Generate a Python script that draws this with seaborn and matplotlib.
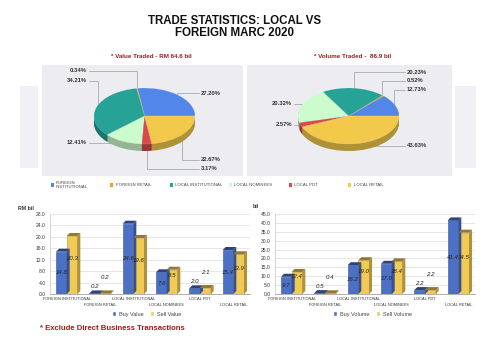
import numpy as np
import matplotlib
matplotlib.use("Agg")
import matplotlib.pyplot as plt
import matplotlib.colors as mcolors
from matplotlib.patches import Rectangle, Polygon
import seaborn as sns
import pandas as pd

# ---------------- data ----------------
segments = ["FOREIGN INSTITUTIONAL", "FOREIGN RETAIL", "LOCAL INSTITUTIONAL",
            "LOCAL NOMINEES", "LOCAL PDT", "LOCAL RETAIL"]
legend_labels = ["FOREIGN\nINSTITUTIONAL", "FOREIGN RETAIL", "LOCAL INSTITUTIONAL",
                 "LOCAL NOMINEES", "LOCAL PDT", "LOCAL RETAIL"]
value_share = [27.20, 0.34, 34.21, 12.41, 3.17, 22.67]
volume_share = [12.73, 0.52, 20.23, 20.32, 2.57, 43.63]
buy_value = [14.8, 0.2, 24.6, 7.6, 2.0, 15.4]
sell_value = [20.3, 0.2, 19.6, 8.5, 2.1, 13.9]
buy_volume = [9.7, 0.5, 16.2, 17.0, 2.2, 41.4]
sell_volume = [12.4, 0.4, 19.0, 18.4, 2.2, 34.5]
value_ticks = [0, 4, 8, 12, 16, 20, 24, 28]
volume_ticks = [0, 5, 10, 15, 20, 25, 30, 35, 40, 45]

title = "TRADE STATISTICS: LOCAL VS\nFOREIGN MARC 2020"
value_title = "* Value Traded - RM 64.6 bil"
volume_title = "* Volume Traded -  86.9 bil"
footnote = "* Exclude Direct Business Transactions"

# ---------------- style ----------------
sns.set_style("white")
plt.rcParams["font.family"] = ["Liberation Sans", "DejaVu Sans"]

pie_colors = ["#5386E9", "#F39A1B", "#27A297", "#CCFBCD", "#DA4A4B", "#F3C94B"]
bar_blue = "#4C70C6"
bar_yellow = "#F1C955"
panel_color = "#ECECF1"
dark_red = "#9A1B1E"
text_col = "#222222"

W, H = 500, 354
fig = plt.figure(figsize=(W / 100, H / 100), dpi=100)
fig.patch.set_facecolor("white")


def px_rect(x0, y0, x1, y1):
    return [x0 / W, 1 - y1 / H, (x1 - x0) / W, (y1 - y0) / H]


def fx(x):
    return x / W


def fy(y):
    return 1 - y / H


def darken(c, f):
    r, g, b = mcolors.to_rgb(c)
    return (r * f, g * f, b * f)


# side decorative panels
for (x0, y0, x1, y1) in [(20, 86, 38, 168), (455, 86, 476, 168)]:
    fig.patches.append(Rectangle((fx(x0), fy(y1)), fx(x1 - x0), (y1 - y0) / H,
                                 transform=fig.transFigure, facecolor="#F1F1F5",
                                 edgecolor="none", zorder=0))

# title
fig.text(fx(234.5), fy(27), title, ha="center", va="center", fontsize=8.3,
         fontweight="bold", color="#111111", linespacing=1.1)


def draw_pie(shares, panel, cx, cy, label_pos, subtitle, sub_x):
    x0, y0, x1, y1 = panel
    rx, ry, depth = 50.5, 28.0, 0.25
    ax = fig.add_axes(px_rect(x0, y0, x1, y1))
    n = 10
    for k in range(n, 0, -1):
        off = -depth * k / n
        ax.pie(shares, colors=[darken(c, 0.72) for c in pie_colors], startangle=0,
               counterclock=True, center=(0, off), wedgeprops=dict(linewidth=0))
    ax.pie(shares, colors=pie_colors, startangle=0, counterclock=True,
           wedgeprops=dict(linewidth=0.3, edgecolor=(1, 1, 1, 0.35)))
    ax.set_aspect("auto")
    ax.set_xlim((x0 - cx) / rx, (x1 - cx) / rx)
    ax.set_ylim((cy - y1) / ry, (cy - y0) / ry)
    ax.set_frame_on(True)
    for s in ax.spines.values():
        s.set_visible(False)
    ax.set_facecolor(panel_color)
    ax.set_xticks([])
    ax.set_yticks([])
    cum = 0.0
    for share, (lx, ly) in zip(shares, label_pos):
        mid = np.deg2rad(3.6 * (cum + share / 2))
        cum += share
        axp, ayp = 0.98 * np.cos(mid), 0.98 * np.sin(mid)
        gap = 0.05 if lx > 0 else -0.05
        ax.plot([axp, axp, lx - gap], [ayp, ly, ly], color="#A3ACB1", lw=0.6, zorder=0)
        ax.text(lx, ly, f"{share:.2f}%", ha="left" if lx > 0 else "right", va="center",
                fontsize=4.2, fontweight="bold", color="#333333")
    fig.text(fx(sub_x), fy(57), subtitle, ha="center", va="center", fontsize=4.5,
             fontweight="bold", color=dark_red)


value_label_pos = [(1.12, 0.82), (-1.14, 1.61), (-1.14, 1.25), (-1.14, -0.96),
                   (1.12, -1.89), (1.12, -1.57)]
volume_label_pos = [(1.16, 0.93), (1.16, 1.25), (1.16, 1.57), (-1.12, 0.43),
                    (-1.12, -0.32), (1.16, -1.07)]

draw_pie(value_share, (42, 65, 243, 176), 144.5, 116, value_label_pos, value_title, 151)
draw_pie(volume_share, (247, 65, 452, 176), 348.5, 116, volume_label_pos, volume_title, 353)

# pie legend
for i, (lab, c) in enumerate(zip(legend_labels, pie_colors)):
    mx = 50.5 + i * 59.5
    fig.patches.append(Rectangle((fx(mx), fy(186.8)), 3.4 / W, 3.4 / H,
                                 transform=fig.transFigure, facecolor=c,
                                 edgecolor="none"))
    fig.text(fx(mx + 5.5), fy(185), lab, ha="left", va="center", fontsize=3.1,
             color="#444444", linespacing=1.15)


def draw_bars(rect_px, buys, sells, ticks, names, legend_x):
    x0, y0, x1, y1 = rect_px
    ax = fig.add_axes(px_rect(x0, y0, x1, y1))
    df = pd.DataFrame({
        "category": segments * 2,
        "series": [names[0]] * len(buys) + [names[1]] * len(sells),
        "value": list(buys) + list(sells),
    })
    sns.barplot(data=df, x="category", y="value", hue="series",
                palette=[bar_blue, bar_yellow], width=0.64, saturation=1,
                ax=ax, legend=False, linewidth=0.4)
    ymax = ticks[-1]
    ax.set_ylim(0, ymax)
    ax.set_xlim(-0.5, len(segments) - 0.5)
    ax.set_yticks(ticks)
    ax.set_yticklabels([f"{t:.1f}" for t in ticks], fontsize=3.6, color="#333333")
    ax.tick_params(axis="y", length=0, pad=3)
    ax.set_xticks([])
    ax.set_xlabel("")
    ax.set_ylabel("")
    ax.grid(axis="y", color="#DCDCDC", lw=0.5)
    ax.set_axisbelow(True)
    for s in ["top", "right"]:
        ax.spines[s].set_visible(False)
    ax.spines["left"].set_color("#CFCFCF")
    ax.spines["left"].set_linewidth(0.6)
    ax.spines["bottom"].set_color("#AFAFAF")
    ax.spines["bottom"].set_linewidth(0.7)

    px_per_y = (y1 - y0) / ymax
    px_per_x = (x1 - x0) / len(segments)
    dx = 3.0 / px_per_x
    dy = 3.0 / px_per_y
    base_colors = [bar_blue, bar_yellow]
    for ci, cont in enumerate(ax.containers):
        for bar in cont:
            bx, bw, bh = bar.get_x(), bar.get_width(), bar.get_height()
            bar.set_edgecolor(darken(base_colors[ci], 0.75))
            side = Polygon([(bx + bw, 0), (bx + bw + dx, dy), (bx + bw + dx, bh + dy), (bx + bw, bh)],
                           closed=True, facecolor=darken(base_colors[ci], 0.72),
                           edgecolor="none", zorder=bar.get_zorder())
            top = Polygon([(bx, bh), (bx + dx, bh + dy), (bx + bw + dx, bh + dy), (bx + bw, bh)],
                          closed=True, facecolor=darken(base_colors[ci], 0.6),
                          edgecolor="none", zorder=bar.get_zorder())
            ax.add_patch(side)
            ax.add_patch(top)
            if bh < 0.12 * ymax:
                ly = bh + (7 if ci == 0 else 16) / px_per_y
            else:
                ly = bh / 2 + (0 if ci == 0 else 6 / px_per_y)
            ax.text(bx + bw / 2, ly, f"{bh:.1f}", ha="center", va="center",
                    fontsize=4.4, style="italic", color=text_col, zorder=5)
    # staggered category labels
    for i, name in enumerate(segments):
        ypix = 4.5 if i % 2 == 0 else 11.5
        ax.text(i, -ypix / (y1 - y0), name, transform=ax.get_xaxis_transform(),
                ha="center", va="center", fontsize=2.8, color="#333333")
    handles = [Rectangle((0, 0), 1, 1, facecolor=bar_blue),
               Rectangle((0, 0), 1, 1, facecolor=bar_yellow)]
    fig.legend(handles, names, loc="center", bbox_to_anchor=(fx(legend_x), fy(314)),
               ncol=2, frameon=False, fontsize=4.0, handlelength=0.8, handleheight=0.8,
               handletextpad=0.5, columnspacing=1.2, labelcolor="#444444")
    return ax


draw_bars((50, 214, 250, 294), buy_value, sell_value, value_ticks,
          ["Buy Value", "Sell Value"], 146.5)
draw_bars((275, 214, 475, 294), buy_volume, sell_volume, volume_ticks,
          ["Buy Volume", "Sell Volume"], 372.5)

fig.text(fx(18), fy(208), "RM bil", ha="left", va="center", fontsize=3.8,
         fontweight="bold", color="#333333")
fig.text(fx(253), fy(207), "bil", ha="left", va="center", fontsize=3.8,
         fontweight="bold", color="#333333")

fig.text(fx(40), fy(328), footnote, ha="left", va="center", fontsize=5.6,
         fontweight="bold", color="#A3191C")

fig.savefig("out.png", dpi=100, facecolor="white")
